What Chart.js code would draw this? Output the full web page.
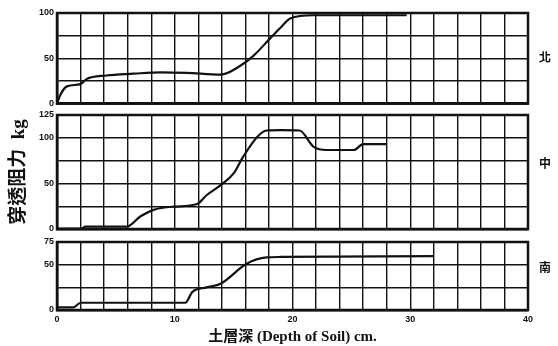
<!DOCTYPE html>
<html>
<head>
<meta charset="utf-8">
<script src="https://cdn.jsdelivr.net/npm/chart.js@4/dist/chart.umd.min.js"></script>
<style>
  body { margin: 0; background: #fff; width: 558px; height: 346px; position: relative; overflow: hidden; }
  canvas { position: absolute; left: 0; }
  .side { position: absolute; left: 539px; font: bold 12px "Noto Sans CJK TC", sans-serif; color: #111; }
</style>
</head>
<body>
<canvas id="north" width="558" height="112" style="top:0"></canvas>
<canvas id="center" width="558" height="150" style="top:100px"></canvas>
<canvas id="south" width="558" height="114" style="top:232px"></canvas>
<span class="side" style="top:48px">北</span>
<span class="side" style="top:154px">中</span>
<span class="side" style="top:258px">南</span>
<script>
// depth (cm) / resistance (kg)
var depthN = [0, 0.3, 0.85, 2.0, 2.5, 4.2, 6.5, 8.8, 11, 13.9, 15.6, 16.7, 18.1, 19, 19.8, 21.8, 29.7];
var northKg = [0, 10, 19, 21.5, 27, 31, 33, 34.5, 34, 32, 42, 53, 72, 84, 94, 97.5, 97.5];

var depthC = [0, 2.1, 2.4, 5.9, 7.1, 8.2, 9.9, 11.9, 12.7, 13.9, 15, 15.8, 17, 17.8, 19, 20.6, 21.8, 22.9, 25.2, 26, 28];
var centerKg = [0.5, 0.5, 2.5, 2.5, 14, 21, 24.5, 27.4, 37, 48, 61, 79, 101, 108, 108.5, 108, 90, 86.6, 86.6, 93, 93];

var depthS = [0, 1.4, 2.0, 10.9, 11.5, 12.7, 13.9, 16.1, 17.8, 19, 32];
var southKg = [3, 3, 8, 8, 20, 25, 29, 51, 58, 58.5, 59.5];

var xLabels = [0, 10, 20, 30, 40];
var northTicks = [0, 50, 100];
var centerTicks = [0, 50, 100, 125];
var southTicks = [0, 50, 75];

var ink = '#111';
var tickFont = { family: 'Liberation Sans', size: 9, weight: 'bold' };
var serif = '"Liberation Serif", "Noto Sans CJK TC", serif';

function pts(xs, ys) {
  return xs.map(function(x, i) { return { x: x, y: ys[i] }; });
}

function makePanel(id, xs, ys, maxY, labels, opts) {
  var ctx = document.getElementById(id).getContext('2d');
  return new Chart(ctx, {
    type: 'line',
    data: {
      datasets: [{
        data: pts(xs, ys),
        borderColor: ink,
        borderWidth: 2.2,
        pointRadius: 0,
        cubicInterpolationMode: 'monotone',
        fill: false
      }]
    },
    options: {
      responsive: false,
      animation: false,
      layout: { padding: { top: opts.top, left: 0, right: 30, bottom: 0 } },
      plugins: { legend: { display: false }, tooltip: { enabled: false } },
      scales: {
        x: {
          type: 'linear', min: 0, max: 40,
          grid: { color: ink, lineWidth: 1.4, drawTicks: false },
          border: { color: ink, width: 2.5 },
          ticks: {
            display: opts.xTicks, stepSize: 2, autoSkip: false, padding: 4, color: ink,
            font: { family: 'Liberation Sans', size: 9, weight: 'bold' },
            callback: function(v) { return xLabels.indexOf(v) >= 0 ? v : ''; }
          },
          title: opts.xTitle ? {
            display: true, text: opts.xTitle, color: ink, padding: { top: 4, bottom: 0 },
            font: { family: serif, size: 15, weight: 'bold' }
          } : { display: false },
          afterFit: function(s) { s.height = opts.xh; }
        },
        y: {
          min: 0, max: maxY,
          grid: { color: ink, lineWidth: 1.4, drawTicks: false },
          border: { color: ink, width: 2.5 },
          ticks: {
            stepSize: 25, autoSkip: false, padding: 3, color: ink, font: tickFont,
            callback: function(v) { return labels.indexOf(v) >= 0 ? v : ''; }
          },
          title: opts.yTitle ? {
            display: true, text: opts.yTitle, color: ink, padding: { top: 8, bottom: 0 },
            font: { family: serif, size: 19, weight: 'bold' }
          } : { display: false },
          afterFit: function(s) { s.width = 57; }
        }
      }
    },
    plugins: [{
      id: 'frame',
      afterDraw: function(chart) {
        var a = chart.chartArea, c = chart.ctx;
        c.save();
        c.strokeStyle = ink;
        c.lineWidth = 2.5;
        c.strokeRect(a.left, a.top, a.right - a.left, a.bottom - a.top);
        c.restore();
      }
    }]
  });
}

makePanel('north', depthN, northKg, 100, northTicks, { top: 13, xh: 6, xTicks: false });
makePanel('center', depthC, centerKg, 125, centerTicks, { top: 15, xh: 21, xTicks: false, yTitle: '穿透阻力  kg' });
makePanel('south', depthS, southKg, 75, southTicks, { top: 10, xh: 36, xTicks: true, xTitle: '土層深 (Depth of Soil) cm.' });
</script>
</body>
</html>
